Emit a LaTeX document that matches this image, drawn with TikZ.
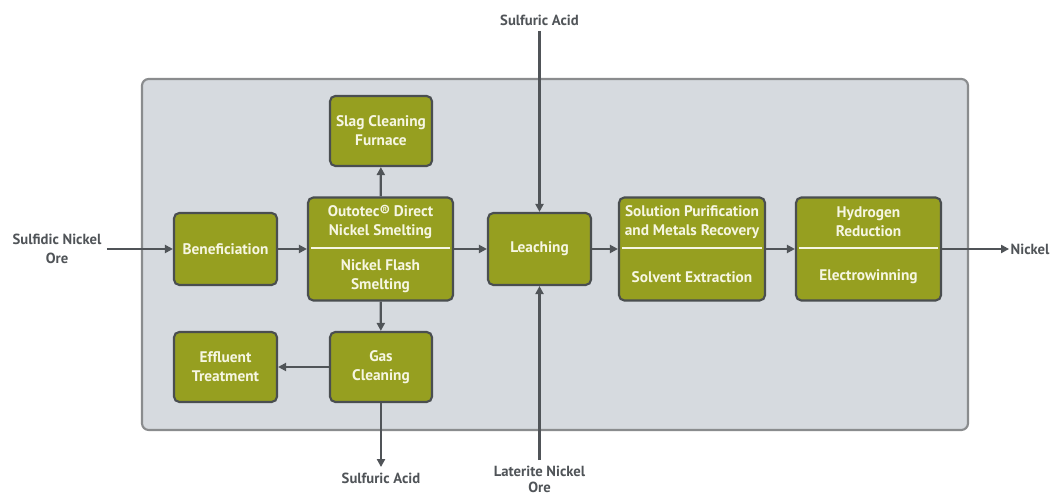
\documentclass[tikz,border=0pt]{standalone}
\usepackage{fontspec}
\setmainfont{PT Sans}
\usepackage{xcolor}
\usetikzlibrary{arrows.meta}

\definecolor{olive}{RGB}{150,159,32}
\definecolor{boxline}{RGB}{74,78,80}
\definecolor{panel}{RGB}{214,218,223}
\definecolor{panelline}{RGB}{138,140,142}
\definecolor{flowgray}{RGB}{80,84,88}
\definecolor{boxtext}{RGB}{246,246,226}

\tikzset{
    box/.style={draw=boxline, fill=olive, line width=1.6pt, rounded corners=4pt,
        text=boxtext, align=center, font=\bfseries\fontsize{11.5}{14.2}\selectfont,
        inner sep=0pt},
    part/.style={text=boxtext, align=center, font=\bfseries\fontsize{11.5}{14.2}\selectfont},
    flow/.style={draw=flowgray, line width=1.6pt, -{Triangle[length=6pt,width=6pt]}},
    outer/.style={text=flowgray, align=center, font=\bfseries\fontsize{11}{14.2}\selectfont,
        inner sep=4pt}
}

\begin{document}
\begin{tikzpicture}[x=0.75pt, y=0.75pt]
        \useasboundingbox (0, 0) rectangle (1052, 498);
        \fill[white] (0, 0) rectangle (1052, 498);

        % panel
        \draw[fill=panel, draw=panelline, line width=1.6pt, rounded corners=5pt] (142, 68) rectangle (968, 419);

        \node[box, minimum width=103*0.75pt, minimum height=72*0.75pt] (benef) at (225.5, 249) {Beneficiation};
        \node[box, minimum width=145*0.75pt, minimum height=103*0.75pt] (smelt) at (380.5, 249) {};
        \node[box, minimum width=102*0.75pt, minimum height=70*0.75pt] (slag) at (381, 367) {Slag Cleaning\\Furnace};
        \node[box, minimum width=102*0.75pt, minimum height=70*0.75pt] (gas) at (381, 131) {Gas\\Cleaning};
        \node[box, minimum width=103*0.75pt, minimum height=70*0.75pt] (effl) at (225.5, 131) {Effluent\\Treatment};
        \node[box, minimum width=103*0.75pt, minimum height=72*0.75pt] (leach) at (539.5, 249) {Leaching};
        \node[box, minimum width=146*0.75pt, minimum height=103*0.75pt] (purif) at (692, 249) {};
        \node[box, minimum width=145*0.75pt, minimum height=103*0.75pt] (hydro) at (868.5, 249) {};

        % divided boxes
        \foreach \b in {smelt, purif, hydro} {
            \draw[boxtext, line width=1.4pt] ([xshift=3pt, yshift=0.75pt]\b.west) -- ([xshift=-3pt, yshift=0.75pt]\b.east);
        }
        \node[part] (smelttop) at (380.5, 276) {Outotec® Direct\\Nickel Smelting};
        \node[part] (smeltbot) at (380.5, 221.5) {Nickel Flash\\Smelting};
        \node[part] (puriftop) at (692, 276) {Solution Purification\\and Metals Recovery};
        \node[part] (purifbot) at (692, 221) {Solvent Extraction};
        \node[part] (hydrotop) at (868.5, 276) {Hydrogen\\Reduction};
        \node[part] (hydrobot) at (868.5, 221) {Electrowinning};

        % feeds and products
        \node[outer] (sulfidic) at (57, 249) {Sulfidic Nickel\\Ore};
        \node[outer, anchor=east, inner sep=1pt] (nickel) at (1051, 249) {Nickel};
        \node[outer] (acidin) at (539.5, 478) {Sulfuric Acid};
        \node[outer] (acidout) at (381, 20) {Sulfuric Acid};
        \node[outer, font=\bfseries\fontsize{11}{12}\selectfont] (laterite) at (539.5, 19) {Laterite Nickel\\Ore};

        \draw[flow] (sulfidic) -- (benef);
        \draw[flow] (benef) -- (smelt);
        \draw[flow] (smelt) -- (leach);
        \draw[flow] (leach) -- (purif);
        \draw[flow] (purif) -- (hydro);
        \draw[flow] (hydro) -- (nickel);
        \draw[flow] (smelt) -- (slag);
        \draw[flow] (smelt) -- (gas);
        \draw[flow] (gas) -- (effl);
        \draw[flow] (gas) -- (acidout);
        \draw[flow] (acidin) -- (leach);
        \draw[flow] (laterite) -- (leach);
    \end{tikzpicture}
\end{document}
